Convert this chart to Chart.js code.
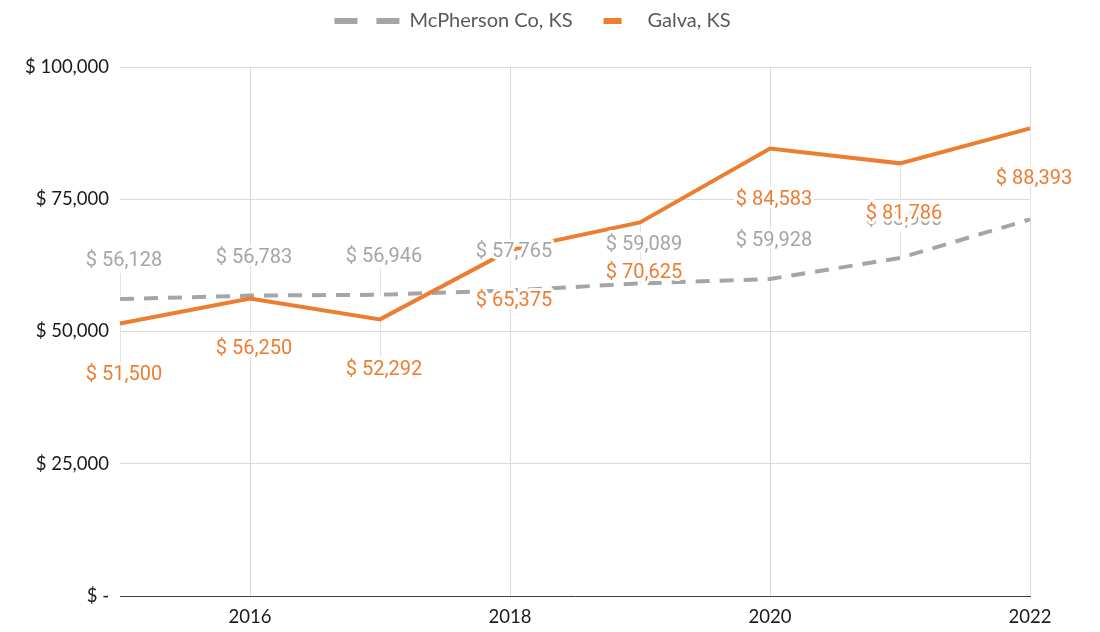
<!DOCTYPE html>
<html>
<head>
<meta charset="utf-8">
<script src="https://cdn.jsdelivr.net/npm/chart.js@4"></script>
<style>
  html, body { margin: 0; padding: 0; background: #fff; }
  #wrap { width: 1100px; height: 632px; }
</style>
</head>
<body>
<div id="wrap"><canvas id="income_chart"></canvas></div>
<script>
// data
var years = ['2015', '2016', '2017', '2018', '2019', '2020', '2021', '2022'];
var mcpherson = [56128, 56783, 56946, 57765, 59089, 59928, 63900, 71200];
var galva = [51500, 56250, 52292, 65375, 70625, 84583, 81786, 88393];
var yTicks = [0, 25000, 50000, 75000, 100000];

var gray = '#A5A5A5';
var orange = '#ED7D31';

function money(v) {
  if (v === 0) return '$ -';
  return '$ ' + v.toLocaleString('en-US');
}

// legend needs more room below it and sits a little right of centre
var legendSpace = {
  id: 'legendSpace',
  beforeInit: function(chart) {
    var legend = chart.legend;
    var fit = legend.fit;
    var draw = legend.draw;
    legend.fit = function() {
      fit.call(this);
      this.height += 26;
    };
    legend.draw = function() {
      this.ctx.save();
      this.ctx.translate(10, 0);
      draw.apply(this, arguments);
      this.ctx.restore();
    };
  }
};

function labelY(ds, pt) {
  return ds.labelPos === 'above' ? pt.y - ds.labelOffset : pt.y + ds.labelOffset;
}

// value labels with a white halo, plus the faint leader lines
var valueLabels = {
  id: 'valueLabels',
  beforeDatasetsDraw: function(chart) {
    var ctx = chart.ctx;
    ctx.save();
    ctx.strokeStyle = '#e3e3e3';
    ctx.lineWidth = 1;
    chart.data.datasets.forEach(function(ds, di) {
      var meta = chart.getDatasetMeta(di);
      meta.data.forEach(function(pt) {
        var x = Math.round(pt.x) + 0.5;
        ctx.beginPath();
        if (ds.labelPos === 'above') {
          ctx.moveTo(x, pt.y - ds.labelOffset + 12);
          ctx.lineTo(x, pt.y);
        } else {
          ctx.moveTo(x, pt.y);
          ctx.lineTo(x, pt.y + ds.labelOffset - 12);
        }
        ctx.stroke();
      });
    });
    ctx.restore();
  },
  afterDatasetsDraw: function(chart) {
    var ctx = chart.ctx;
    var sets = chart.data.datasets;
    ctx.save();
    ctx.font = '20px Roboto';
    ctx.textAlign = 'center';
    ctx.textBaseline = 'middle';
    ctx.lineJoin = 'round';
    sets.forEach(function(ds, di) {
      var meta = chart.getDatasetMeta(di);
      meta.data.forEach(function(pt, i) {
        var y = labelY(ds, pt);
        // skip a label sitting right on top of another series' label
        var clash = sets.some(function(other, oi) {
          if (oi <= di) return false;
          var op = chart.getDatasetMeta(oi).data[i];
          return Math.abs(labelY(other, op) - y) < 4;
        });
        if (clash) return;
        var txt = money(ds.data[i]);
        var x = pt.x + 4;
        ctx.strokeStyle = '#ffffff';
        ctx.lineWidth = 6;
        ctx.strokeText(txt, x, y);
        ctx.fillStyle = ds.borderColor;
        ctx.fillText(txt, x, y);
      });
    });
    ctx.restore();
  }
};

var ctx = document.getElementById('income_chart').getContext('2d');
var chart = new Chart(ctx, {
  type: 'line',
  data: {
    labels: years,
    datasets: [{
      label: 'McPherson Co, KS',
      data: mcpherson,
      borderColor: gray,
      backgroundColor: gray,
      borderWidth: 4,
      borderDash: [14, 10],
      pointRadius: 0,
      tension: 0,
      order: 1,
      labelPos: 'above',
      labelOffset: 38
    }, {
      label: 'Galva, KS',
      data: galva,
      borderColor: orange,
      backgroundColor: orange,
      borderWidth: 4,
      pointRadius: 0,
      tension: 0,
      order: 0,
      labelPos: 'below',
      labelOffset: 51
    }]
  },
  options: {
    responsive: true,
    maintainAspectRatio: false,
    animation: false,
    layout: { padding: { left: 15, right: 70, top: 11, bottom: 0 } },
    plugins: {
      tooltip: { enabled: false },
      legend: {
        position: 'top',
        labels: {
          usePointStyle: true,
          pointStyleWidth: 65,
          padding: 0,
          color: '#595959',
          font: { family: 'Lato', size: 20 },
          sort: function(a, b) { return a.datasetIndex - b.datasetIndex; },
          generateLabels: function(chart) {
            return chart.data.datasets.map(function(ds, i) {
              var dashed = i === 0;
              return {
                text: ds.label,
                datasetIndex: i,
                fillStyle: ds.borderColor,
                strokeStyle: ds.borderColor,
                fontColor: '#595959',
                lineWidth: 6,
                pointStyle: 'line',
                // single short stroke in the middle of the sample box
                lineDash: dashed ? [23, 19] : [0, 31, 18, 100],
                hidden: false
              };
            });
          }
        }
      }
    },
    scales: {
      x: {
        type: 'category',
        offset: false,
        afterFit: function(scale) { scale.height = 36; },
        grid: {
          drawTicks: false,
          color: function(c) { return c.index % 2 === 1 ? '#d9d9d9' : 'rgba(0,0,0,0)'; }
        },
        border: { display: true, color: '#404040', width: 1 },
        ticks: {
          autoSkip: false,
          maxRotation: 0,
          padding: 10,
          color: '#1a1a1a',
          font: { family: 'Lato', size: 18.5 },
          callback: function(v, i) { return i % 2 === 1 ? years[i] : ''; }
        }
      },
      y: {
        min: 0,
        max: 100000,
        afterFit: function(scale) { scale.width = 105; },
        afterBuildTicks: function(scale) {
          scale.ticks = yTicks.map(function(v) { return { value: v }; });
        },
        grid: { drawTicks: false, color: '#d9d9d9' },
        border: { display: false },
        ticks: {
          padding: 11,
          color: '#1a1a1a',
          font: { family: 'Lato', size: 18.5 },
          callback: function(v) { return money(v); }
        }
      }
    }
  },
  plugins: [legendSpace, valueLabels]
});
</script>
</body>
</html>
